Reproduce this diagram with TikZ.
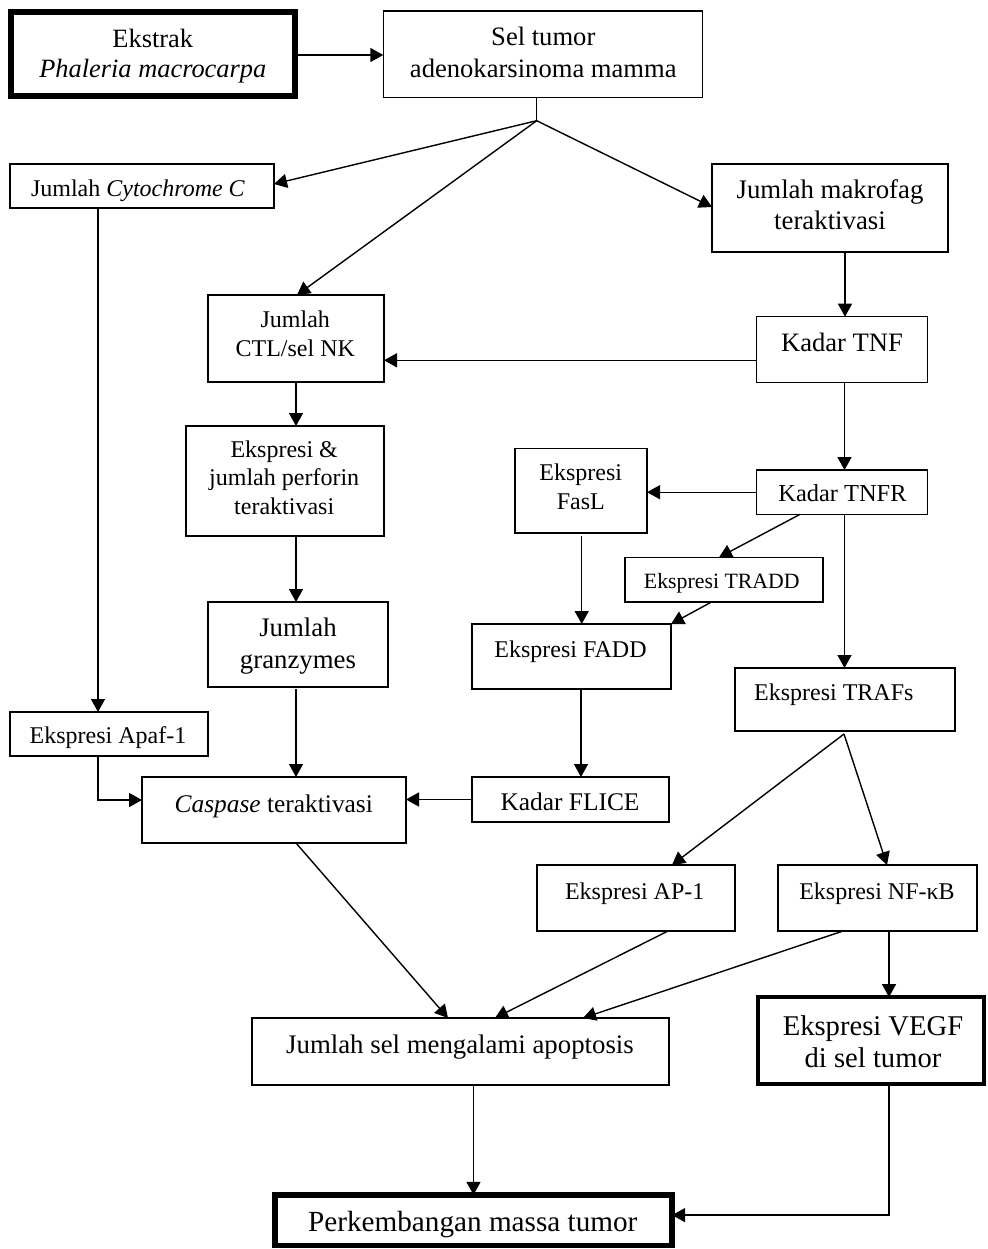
\documentclass[tikz,border=0pt]{standalone}
\usepackage{fontspec}
\setmainfont{Liberation Serif}
\usetikzlibrary{arrows.meta,calc}
\newcommand\myfs[2]{\fontsize{#1}{#2}\selectfont}
\begin{document}
\begin{tikzpicture}[x=0.5pt,y=-0.5pt,
  box/.style={draw, rectangle, line width=0.75pt, inner sep=0pt, outer sep=0pt},
  txt/.style={inner sep=0pt, outer sep=0pt, align=center},
  arr/.style={-{Triangle[length=6.5pt,width=7pt]}, line width=0.7pt},
  ln/.style={line width=0.7pt}]
\fill[white] (0,0) rectangle (987,1249);
\useasboundingbox (0,0) rectangle (987,1249);

% boxes
\node[box, line width=3pt, minimum width=141.75pt, minimum height=42pt] (ekstrak) at (152.8,54.3) {};
\node[box, minimum width=159.7pt, minimum height=43.15pt] (sel) at (543,54.2) {};
\node[box, minimum width=132pt, minimum height=22pt] (cyto) at (142,186) {};
\node[box, minimum width=118pt, minimum height=44pt] (makro) at (830,208) {};
\node[box, minimum width=88pt, minimum height=43.5pt] (ctl) at (296,338.5) {};
\node[box, minimum width=85.5pt, minimum height=32.8pt] (tnf) at (842,349.5) {};
\node[box, minimum width=99pt, minimum height=55pt] (perf) at (285,481) {};
\node[box, minimum width=66pt, minimum height=42.35pt] (fasl) at (581,490.7) {};
\node[box, minimum width=85.5pt, minimum height=22.15pt] (tnfr) at (842,492.2) {};
\node[box, minimum width=99pt, minimum height=22.35pt] (tradd) at (724,579.7) {};
\node[box, minimum width=90pt, minimum height=42.5pt] (gran) at (298,644.5) {};
\node[box, minimum width=99.5pt, minimum height=32.5pt] (fadd) at (571.5,656.5) {};
\node[box, minimum width=110pt, minimum height=31.5pt] (trafs) at (845,699.5) {};
\node[box, minimum width=99pt, minimum height=22pt] (apaf) at (109,734) {};
\node[box, minimum width=132pt, minimum height=33pt] (casp) at (274,810) {};
\node[box, minimum width=98.5pt, minimum height=22.5pt] (flice) at (570.5,799.5) {};
\node[box, minimum width=99pt, minimum height=33pt] (ap1) at (636,898) {};
\node[box, minimum width=99.5pt, minimum height=33pt] (nfkb) at (877.5,898) {};
\node[box, line width=2.1pt, minimum width=112.9pt, minimum height=43.25pt] (vegf) at (871,1040.35) {};
\node[box, minimum width=208.5pt, minimum height=33.5pt] (apop) at (460.5,1051.5) {};
\node[box, line width=2.85pt, minimum width=198.6pt, minimum height=25.25pt] (perk) at (473.5,1220.1) {};

% texts
\node[txt, font=\myfs{13.2}{15}] (t-ekstrak) at (152.8,56.3) {\strut Ekstrak\\\strut\textit{Phaleria macrocarpa}};
\node[txt, font=\myfs{13.3}{16}] (t-sel) at (543.3,54.7) {\strut Sel tumor\\\strut adenokarsinoma mamma};
\node[txt, font=\myfs{12}{14}] (t-cyto) at (138,190.4) {\strut Jumlah \textit{Cytochrome C}};
\node[txt, font=\myfs{13.4}{15.5}] (t-makro) at (830,207.6) {\strut Jumlah makrofag\\\strut teraktivasi};
\node[txt, font=\myfs{12}{14.15}] (t-ctl) at (295.3,336.2) {\strut Jumlah\\\strut CTL/sel NK};
\node[txt, font=\myfs{13.3}{15.3}] (t-tnf) at (842,345.6) {\strut Kadar TNF};
\node[txt, font=\myfs{12}{14.15}] (t-perf) at (284.2,480.3) {\strut Ekspresi \&\\jumlah perforin\\\strut teraktivasi};
\node[txt, font=\myfs{12}{14.6}] (t-fasl) at (580.8,488.8) {\strut Ekspresi\\\strut FasL};
\node[txt, font=\myfs{12.2}{14}] (t-tnfr) at (842.5,496.1) {\strut Kadar TNFR};
\node[txt, font=\myfs{10.9}{12.6}] (t-tradd) at (721.8,583.3) {\strut Ekspresi TRADD};
\node[txt, font=\myfs{13.4}{16}] (t-gran) at (298,645.6) {\strut Jumlah\\\strut granzymes};
\node[txt, font=\myfs{12}{14}] (t-fadd) at (570.5,651.7) {\strut Ekspresi FADD};
\node[txt, font=\myfs{12}{14}] (t-trafs) at (833.8,695.1) {\strut Ekspresi TRAFs};
\node[txt, font=\myfs{12}{14}] (t-apaf) at (108,737.7) {\strut Ekspresi Apaf-1};
\node[txt, font=\myfs{12.7}{14.6}] (t-casp) at (273.8,806.5) {\strut\textit{Caspase} teraktivasi};
\node[txt, font=\myfs{12.7}{14.6}] (t-flice) at (570,804.9) {\strut Kadar FLICE};
\node[txt, font=\myfs{12}{14}] (t-ap1) at (634.7,893.7) {\strut Ekspresi AP-1};
\node[txt, font=\myfs{12}{14}] (t-nfkb) at (877,893.7) {\strut Ekspresi NF-κB};
\node[txt, font=\myfs{14.3}{15.8}] (t-vegf) at (873,1045.2) {\strut Ekspresi VEGF\\\strut di sel tumor};
\node[txt, font=\myfs{13.4}{15.4}] (t-apop) at (460,1047.8) {\strut Jumlah sel mengalami apoptosis};
\node[txt, font=\myfs{14.6}{16.8}] (t-perk) at (472.8,1225) {\strut Perkembangan massa tumor};

% connectors
\draw[arr] ($(ekstrak.east)+(0,0.7)$) coordinate (e1) -- (e1 -| sel.west);
\coordinate (br) at (536.7,120.7);
\draw[ln] (br |- sel.south) -- (br);
\draw[arr] (br) -- ($(cyto.east)+(0,-2)$);
\draw[arr] (br) -- ($(ctl.north)+(1,0)$);
\draw[arr] (br) -- ($(makro.west)+(0,-1)$);
\draw[arr] ($(makro.south)+(15,0)$) -- ($(tnf.north)+(3,0)$);
\draw[arr] ($(tnf.west)+(0,10.8)$) coordinate (t1) -- (t1 -| ctl.east);
\draw[arr] (ctl.south) -- (ctl.south |- perf.north);
\draw[arr] (ctl.south |- perf.south) -- (ctl.south |- gran.north);
\draw[arr] ($(tnf.south)+(2.5,0)$) -- ($(tnfr.north)+(2.5,0)$);
\draw[arr] (tnfr.west) -- (tnfr.west -| fasl.east);
\draw[arr] ($(fasl.south)+(0.7,3)$) coordinate (f1) -- (f1 |- fadd.north);
\draw[arr] ($(tnfr.south)+(-42,0)$) -- ($(tradd.north)+(-5,0)$);
\draw[arr] ($(tradd.south)+(-12.6,0)$) -- (fadd.north east);
\draw[arr] ($(tnfr.south)+(2.5,0)$) -- ($(trafs.north)+(-0.5,0)$);
\draw[arr] ($(fadd.south)+(9.5,0)$) coordinate (f2) -- (f2 |- flice.north);
\draw[arr] ($(gran.south)+(-2,2)$) coordinate (g1) -- (g1 |- casp.north);
\draw[arr] ($(cyto.south)+(-44,0)$) coordinate (c1) -- (c1 |- apaf.north);
\draw[arr] ($(apaf.south)+(-11,0)$) |- ($(casp.west)+(0,-10)$);
\draw[arr] (flice.west) -- (flice.west -| casp.east);
\coordinate (tb) at ($(trafs.south)+(-1,3)$);
\draw[arr] (tb) -- ($(ap1.north)+(36,0)$);
\draw[arr] (tb) -- ($(nfkb.north)+(9.5,0)$);
\draw[arr] ($(casp.south)+(22,0)$) -- ($(apop.north)+(-12.5,0)$);
\draw[arr] ($(ap1.south)+(32,0)$) -- ($(apop.north)+(34.5,0)$);
\draw[arr] ($(nfkb.south)+(-34.5,0)$) -- ($(apop.north)+(122.5,0)$);
\draw[arr] ($(nfkb.south)+(11.5,0)$) coordinate (n1) -- (n1 |- vegf.north);
\draw[arr] ($(vegf.south)+(18,0)$) |- ($(perk.east)+(0,-5)$);
\draw[arr] (perk.north |- apop.south) -- (perk.north);
\end{tikzpicture}
\end{document}
